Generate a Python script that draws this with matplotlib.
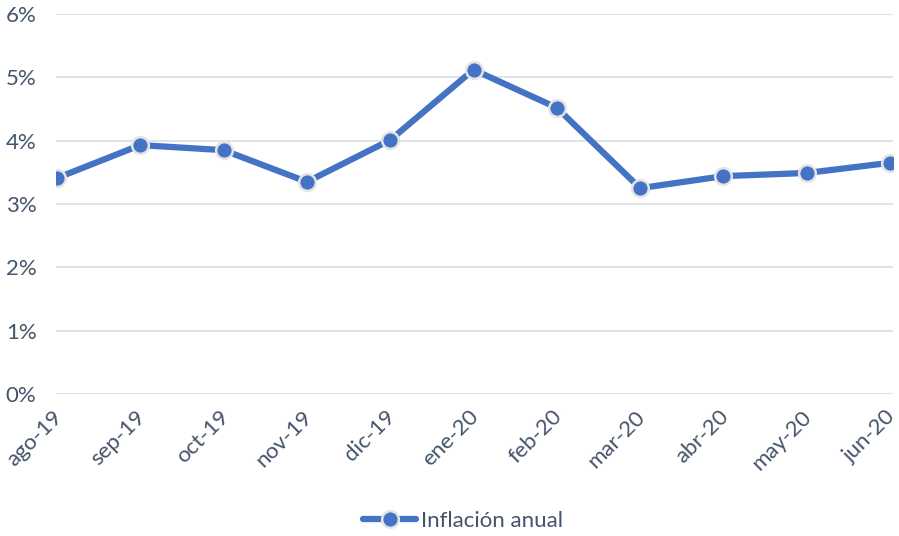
import matplotlib
matplotlib.use("Agg")
import matplotlib.pyplot as plt
import matplotlib.transforms as mtransforms
from matplotlib.ticker import FuncFormatter

categories = ["ago-19", "sep-19", "oct-19", "nov-19", "dic-19", "ene-20",
              "feb-20", "mar-20", "abr-20", "may-20", "jun-20"]
inflacion = [3.41, 3.93, 3.85, 3.35, 4.01, 5.12, 4.52, 3.25, 3.44, 3.49, 3.65]
yticks = [0, 1, 2, 3, 4, 5, 6]

plt.rcParams['font.family'] = ['Lato', 'DejaVu Sans']
text_color = "#44546A"

fig = plt.figure(figsize=(8.99, 5.36), dpi=100)
ax = fig.add_axes([56/899, 1-394/536, (893-56)/899, (394-14)/536])

x = list(range(len(categories)))
ax.plot(x, inflacion, color="#4472C4", linewidth=4.5, marker="o", markersize=12,
        markerfacecolor="#4472C4", markeredgecolor="#E4E4E4", markeredgewidth=1.8,
        label="Inflación anual", zorder=3, solid_capstyle="round")

ax.set_xlim(-0.012, 10.036)
ax.set_ylim(0, 6)
ax.set_yticks(yticks)
ax.yaxis.set_major_formatter(FuncFormatter(lambda v, p: f"{int(v)}%"))
ax.set_xticks(x)
ax.set_xticklabels(categories, rotation=45, ha="right", rotation_mode="anchor")
ax.grid(axis="y", color="#D9DDE3", linewidth=1.2)
ax.set_axisbelow(True)
for s in ax.spines.values():
    s.set_visible(False)
ax.tick_params(axis="both", length=0, colors=text_color, labelsize=16)
ax.tick_params(axis="x", pad=9)
ax.tick_params(axis="y", pad=14)

offset = mtransforms.ScaledTranslation(-0.05, 0, fig.dpi_scale_trans)
for lab in ax.get_xticklabels():
    lab.set_transform(lab.get_transform() + offset)

leg = fig.legend(loc="center", bbox_to_anchor=(463/899, 1-521/536), frameon=False,
                 fontsize=16, handlelength=2.4, handletextpad=0.2)
for t in leg.get_texts():
    t.set_color(text_color)

fig.savefig("out.png", dpi=100)
